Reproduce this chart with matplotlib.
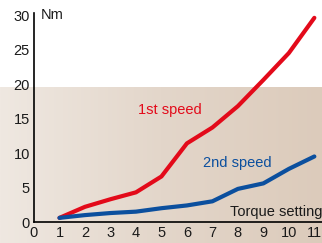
import numpy as np
import matplotlib.pyplot as plt
from matplotlib.colors import LinearSegmentedColormap

# torque settings and tightening torque (Nm)
settings = [1, 2, 3, 4, 5, 6, 7, 8, 9, 10, 11]
first_speed = [0.6, 2.2, 3.3, 4.3, 6.6, 11.4, 13.7, 16.8, 20.6, 24.5, 29.6]
second_speed = [0.6, 1.0, 1.3, 1.5, 2.0, 2.4, 3.0, 4.8, 5.6, 7.7, 9.5]
xticks = list(range(0, 12))
yticks = [0, 5, 10, 15, 20, 25, 30]

red = '#e30a1a'
blue = '#0b4f9e'

plt.rcParams['font.family'] = ['Liberation Sans', 'DejaVu Sans']

fig = plt.figure(figsize=(3.22, 2.43), dpi=100)
fig.patch.set_facecolor('white')

# beige band behind the lower part of the chart
bg = fig.add_axes([0, 0, 1, 1 - 87 / 243], zorder=0)
cmap = LinearSegmentedColormap.from_list('beige', ['#efe8e1', '#e3d6ca', '#dccbbb'])
bg.imshow(np.linspace(0, 1, 256)[None, :], cmap=cmap, aspect='auto', extent=[0, 1, 0, 1])
bg.axis('off')

ax = fig.add_axes([34 / 322, 21 / 243, 1 - 34 / 322, 209 / 243], zorder=1)
ax.patch.set_alpha(0)

ax.plot(settings, first_speed, color=red, lw=3, solid_capstyle='round', solid_joinstyle='round')
ax.plot(settings, second_speed, color=blue, lw=3, solid_capstyle='round', solid_joinstyle='round')

ax.set_xlim(0, 11.3)
ax.set_ylim(0, 30.3)
ax.set_xticks(xticks)
ax.set_yticks(yticks)
ax.tick_params(length=0, labelsize=10.5, pad=3, labelcolor='#1a1a1a')
for s in ['top', 'right']:
    ax.spines[s].set_visible(False)
ax.spines['left'].set_linewidth(1.2)
ax.spines['bottom'].set_linewidth(1.2)

ax.text(0.25, 30, 'Nm', fontsize=10.5, va='center', ha='left', color='#1a1a1a')
ax.text(4.1, 16.2, '1st speed', fontsize=10.5, color=red, va='center')
ax.text(6.63, 8.5, '2nd speed', fontsize=10.5, color=blue, va='center')
ax.text(11.3, 1.5, 'Torque setting', fontsize=10.5, va='center', ha='right', color='#1a1a1a')

fig.savefig('out.png', dpi=100)
